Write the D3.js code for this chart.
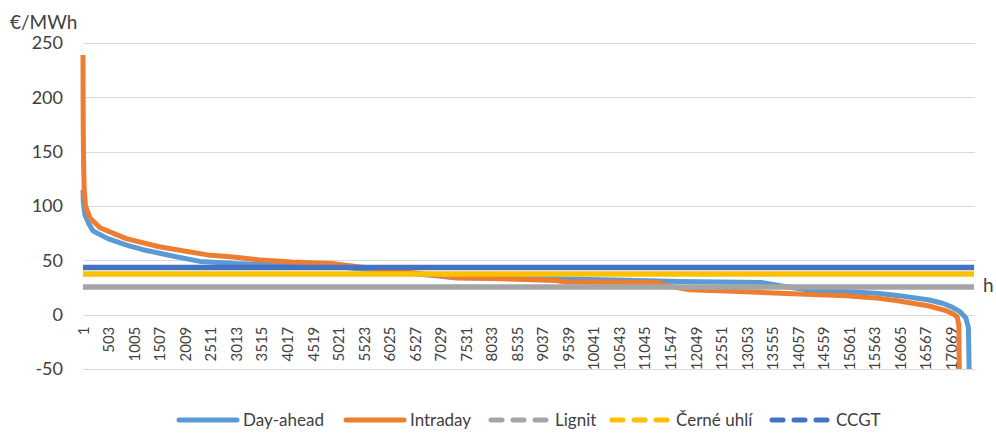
<!DOCTYPE html>
<html>
<head>
<meta charset="utf-8">
<script src="https://cdn.jsdelivr.net/npm/d3@7"></script>
<style>
  html, body { margin: 0; padding: 0; background: #ffffff; }
  svg { display: block; font-family: Lato, "Open Sans", sans-serif; }
</style>
</head>
<body>
<svg id="chart" width="996" height="434"></svg>
<script>
// Price duration curves (sorted hourly prices), €/MWh, plus fuel cost levels.
const hoursTotal = 17520;

// Day-ahead duration curve: [hour rank, price]
const dayAhead = [
  [1, 115], [8, 103], [40, 92], [110, 84], [200, 77], [490, 70], [860, 64],
  [1160, 60], [1810, 53.5], [2300, 49], [3000, 47], [4000, 45.5], [5000, 44],
  [6000, 40], [7000, 35.5], [7300, 34], [9300, 33], [11340, 31], [11700, 30.5],
  [13360, 29.5], [13800, 26], [14300, 22.5], [15070, 21], [15660, 19.5],
  [16050, 17.5], [16640, 13.5], [16900, 10.5], [17090, 7], [17250, 2.5],
  [17360, -3], [17410, -12], [17428, -60]
];

// Intraday duration curve: [hour rank, price]
const intraday = [
  [1, 239], [3, 205], [6, 170], [12, 140], [25, 115], [50, 100], [138, 89],
  [335, 80], [850, 70], [1500, 62.5], [2450, 55], [2950, 53], [3440, 50.5],
  [4100, 48.5], [4900, 47], [5400, 44], [6200, 40], [7000, 36], [7350, 34],
  [8200, 33], [9300, 31.5], [9500, 30], [11300, 29.5], [11450, 27],
  [11930, 23], [12770, 21.5], [14090, 19], [15000, 17.5], [15660, 15],
  [16050, 12.5], [16640, 8], [16950, 4], [17100, 1], [17190, -2],
  [17222, -10], [17232, -60]
];

// Fuel cost levels (constant across all hours)
const lignit = 25.5;
const cerneUhli = 37.5;
const ccgt = 43.5;

const seriesNames = ["Day-ahead", "Intraday", "Lignit", "Černé uhlí", "CCGT"];
const yTicks = [-50, 0, 50, 100, 150, 200, 250];
const xTickLabels = [
  1, 503, 1005, 1507, 2009, 2511, 3013, 3515, 4017, 4519, 5021, 5523, 6025,
  6527, 7029, 7531, 8033, 8535, 9037, 9539, 10041, 10543, 11045, 11547,
  12049, 12551, 13053, 13555, 14057, 14559, 15061, 15563, 16065, 16567, 17069
];

const colors = {
  "Day-ahead": "#5B9BD5",
  "Intraday": "#ED7D31",
  "Lignit": "#A5A5A5",
  "Černé uhlí": "#FFC000",
  "CCGT": "#4472C4"
};

const plot = { left: 83, right: 975, top: 43, bottom: 369 };
const textColor = "#404040";

const svg = d3.select("#chart");

const x = d3.scaleLinear().domain([1, hoursTotal]).range([plot.left, plot.right - 1]);
const y = d3.scaleLinear().domain([-50, 250]).range([plot.bottom, plot.top]);

// Horizontal gridlines
svg.append("g")
  .selectAll("line")
  .data(yTicks)
  .join("line")
  .attr("x1", plot.left).attr("x2", plot.right)
  .attr("y1", d => Math.round(y(d)) + 0.5).attr("y2", d => Math.round(y(d)) + 0.5)
  .attr("stroke", "#D9D9D9").attr("stroke-width", 1);

// Y axis labels (plain hyphen for negatives)
const yAxis = d3.axisLeft(y).tickValues(yTicks).tickSize(0).tickPadding(0)
  .tickFormat(d => String(d));
const gy = svg.append("g").attr("transform", `translate(${plot.left - 20},0)`).call(yAxis);
gy.select(".domain").remove();
gy.selectAll("text")
  .attr("fill", textColor)
  .style("font-size", "18px")
  .style("font-family", "Lato, 'Open Sans', sans-serif");

// X axis labels (rotated), hanging below the zero line
const xAxis = d3.axisBottom(x).tickValues(xTickLabels).tickSize(0).tickFormat(d => String(d));
const gx = svg.append("g").attr("transform", `translate(0,${y(0)})`).call(xAxis);
gx.select(".domain").remove();
gx.selectAll("text")
  .attr("fill", textColor)
  .style("font-size", "15px")
  .style("font-family", "Lato, 'Open Sans', sans-serif")
  .attr("transform", "rotate(-90)")
  .attr("x", -12)
  .attr("y", 0)
  .attr("dy", "0.35em")
  .attr("text-anchor", "end");

// Clip to plot area
svg.append("defs").append("clipPath").attr("id", "plotClip")
  .append("rect")
  .attr("x", plot.left - 4).attr("y", plot.top)
  .attr("width", plot.right - plot.left + 4).attr("height", plot.bottom - plot.top);

const plotG = svg.append("g").attr("clip-path", "url(#plotClip)");

const line = d3.line().x(d => x(d[0])).y(d => y(d[1]));

plotG.append("path")
  .datum(dayAhead)
  .attr("d", line)
  .attr("fill", "none")
  .attr("stroke", colors["Day-ahead"])
  .attr("stroke-width", 5)
  .attr("stroke-linejoin", "round");

plotG.append("path")
  .datum(intraday)
  .attr("d", line)
  .attr("fill", "none")
  .attr("stroke", colors["Intraday"])
  .attr("stroke-width", 5)
  .attr("stroke-linejoin", "round");

// Fuel cost levels
const levels = [
  { name: "Lignit", value: lignit },
  { name: "Černé uhlí", value: cerneUhli },
  { name: "CCGT", value: ccgt }
];
plotG.selectAll("line.level")
  .data(levels)
  .join("line")
  .attr("class", "level")
  .attr("x1", x(1)).attr("x2", x(hoursTotal))
  .attr("y1", d => y(d.value)).attr("y2", d => y(d.value))
  .attr("stroke", d => colors[d.name])
  .attr("stroke-width", 5.5);

// Axis titles
svg.append("text")
  .attr("x", 10).attr("y", 29)
  .attr("fill", textColor)
  .style("font-size", "19px")
  .text("€/MWh");

svg.append("text")
  .attr("x", 983).attr("y", 292)
  .attr("fill", textColor)
  .style("font-size", "19px")
  .text("h");

// Legend
const legendX = [177, 344, 489, 610, 770];
const legendY = 420;
const legend = svg.append("g");
seriesNames.forEach((name, i) => {
  const g = legend.append("g").attr("transform", `translate(${legendX[i]},${legendY})`);
  const dashed = i >= 2;
  g.append("line")
    .attr("x1", 2).attr("x2", 60)
    .attr("y1", 0).attr("y2", 0)
    .attr("stroke", colors[name])
    .attr("stroke-width", 5)
    .attr("stroke-linecap", "round")
    .attr("stroke-dasharray", dashed ? "11 11" : null);
  g.append("text")
    .attr("x", 66).attr("y", 0)
    .attr("dy", "0.35em")
    .attr("fill", textColor)
    .style("font-size", "17px")
    .text(name);
});
</script>
</body>
</html>
